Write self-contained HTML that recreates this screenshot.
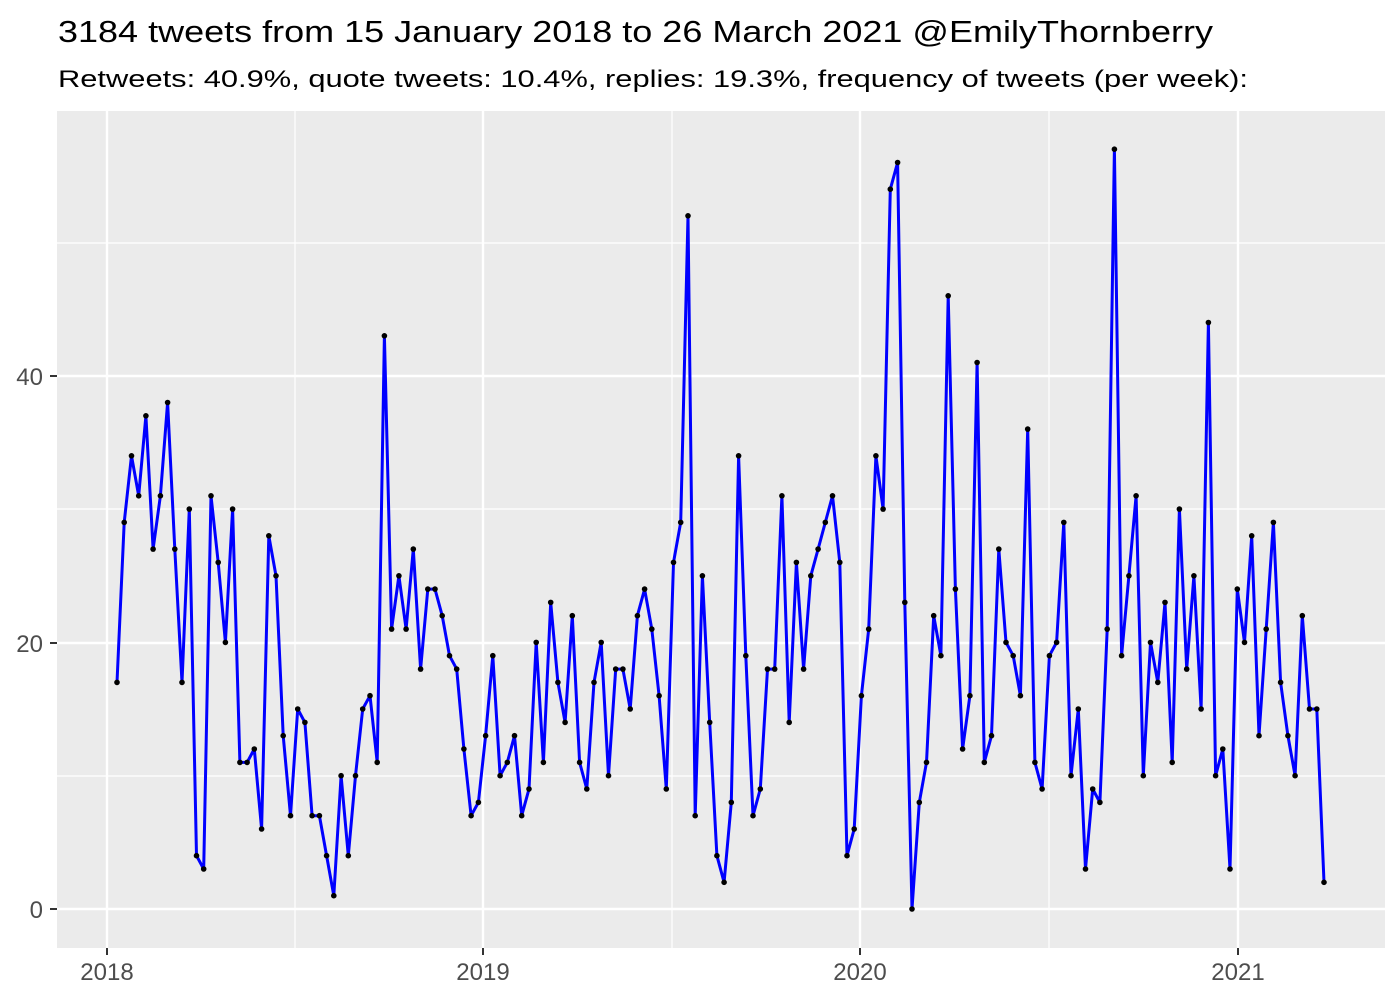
<!DOCTYPE html>
<html><head><meta charset="utf-8"><style>body{margin:0;background:#fff}svg{display:block}</style></head>
<body>
<svg id="s" width="1400" height="1000" xmlns="http://www.w3.org/2000/svg" font-family="Liberation Sans, sans-serif">
<rect width="1400" height="1000" fill="#fff"/>
<text x="58" y="42" font-size="31" fill="#000" textLength="1155" lengthAdjust="spacingAndGlyphs">3184 tweets from 15 January 2018 to 26 March 2021 @EmilyThornberry</text>
<text x="58" y="87" font-size="24" fill="#000" textLength="1190" lengthAdjust="spacingAndGlyphs">Retweets: 40.9%, quote tweets: 10.4%, replies: 19.3%, frequency of tweets (per week):</text>
<rect x="57" y="111" width="1328" height="837" fill="#ebebeb"/>
<g stroke="#fff" stroke-width="1.2">
<line x1="57" x2="1385" y1="776" y2="776"/><line x1="57" x2="1385" y1="509" y2="509"/><line x1="57" x2="1385" y1="243" y2="243"/>
<line x1="295" x2="295" y1="111" y2="948"/><line x1="672" x2="672" y1="111" y2="948"/><line x1="1049" x2="1049" y1="111" y2="948"/>
</g>
<g stroke="#fff" stroke-width="2.4">
<line x1="57" x2="1385" y1="909" y2="909"/><line x1="57" x2="1385" y1="643" y2="643"/><line x1="57" x2="1385" y1="376" y2="376"/>
<line x1="107" x2="107" y1="111" y2="948"/><line x1="483" x2="483" y1="111" y2="948"/><line x1="860" x2="860" y1="111" y2="948"/><line x1="1238" x2="1238" y1="111" y2="948"/>
</g>
<g stroke="#333" stroke-width="2">
<line x1="50" x2="57" y1="909" y2="909"/><line x1="50" x2="57" y1="643" y2="643"/><line x1="50" x2="57" y1="376" y2="376"/>
<line x1="107" x2="107" y1="948" y2="955"/><line x1="483" x2="483" y1="948" y2="955"/><line x1="860" x2="860" y1="948" y2="955"/><line x1="1238" x2="1238" y1="948" y2="955"/>
</g>
<g font-size="24" fill="#4d4d4d" text-anchor="end">
<text x="43" y="918">0</text><text x="43" y="652">20</text><text x="43" y="385">40</text>
</g>
<g font-size="24" fill="#4d4d4d" text-anchor="middle">
<text x="107" y="980">2018</text><text x="483" y="980">2019</text><text x="860" y="980">2020</text><text x="1238" y="980">2021</text>
</g>
<g id="d"></g>
</svg>
<script>
var v=[17,29,34,31,37,27,31,38,27,17,30,4,3,31,26,20,30,11,11,12,6,28,25,13,7,15,14,7,7,4,1,10,4,10,15,16,11,43,21,25,21,27,18,24,24,22,19,18,12,7,8,13,19,10,11,13,7,9,20,11,23,17,14,22,11,9,17,20,10,18,18,15,22,24,21,16,9,26,29,52,7,25,14,4,2,8,34,19,7,9,18,18,31,14,26,18,25,27,29,31,26,4,6,16,21,34,30,54,56,23,0,8,11,22,19,46,24,12,16,41,11,13,27,20,19,16,36,11,9,19,20,29,10,15,3,9,8,21,57,19,25,31,10,20,17,23,11,30,18,25,15,44,10,12,3,24,20,28,13,21,29,17,13,10,22,15,15,2];
var n=v.length,st=(1324-117)/(n-1),p=[],c='';
for(var i=0;i<n;i++){var x=117+i*st,y=909-v[i]*13.33;p.push(x.toFixed(1)+','+y.toFixed(1));c+='<circle cx="'+x.toFixed(1)+'" cy="'+y.toFixed(1)+'" r="2.8" fill="#000"/>';}
document.getElementById('d').innerHTML='<polyline points="'+p.join(' ')+'" fill="none" stroke="#0000ff" stroke-width="3" stroke-linejoin="round"/>'+c;
</script>
</body></html>
